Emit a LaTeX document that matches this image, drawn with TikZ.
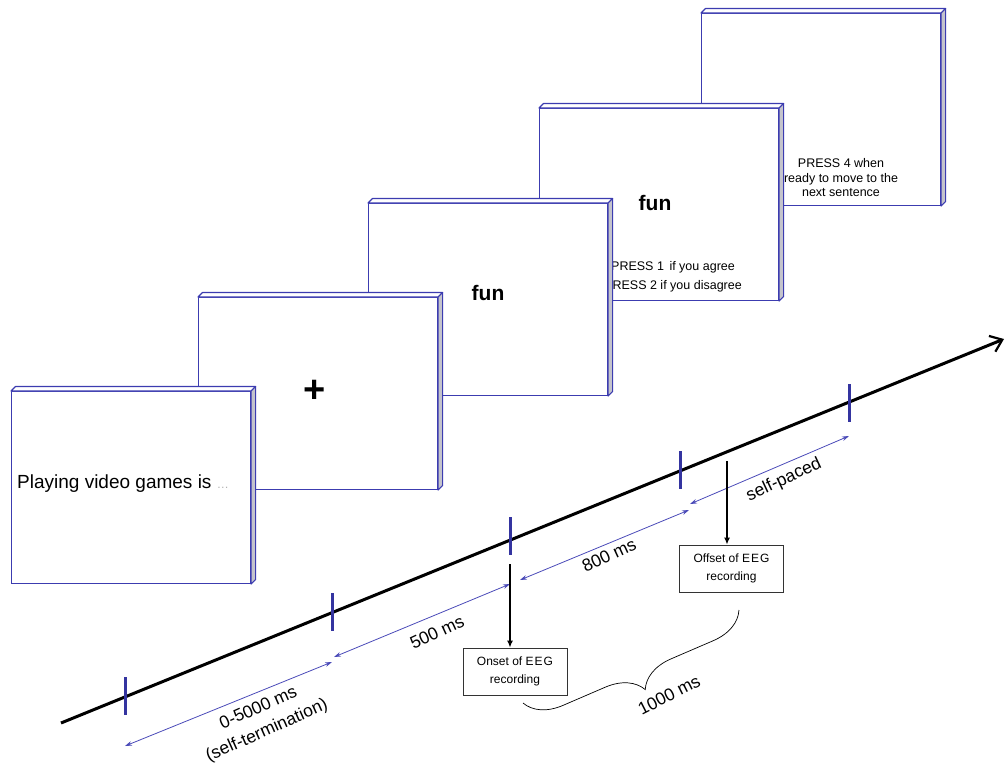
\documentclass[tikz,border=0pt]{standalone}
\usepackage{fontspec}
\setmainfont{Liberation Sans}
\usetikzlibrary{arrows.meta,decorations.pathreplacing,calc}
\definecolor{scrblue}{HTML}{3C3CB0}
\definecolor{tickblue}{HTML}{3434A0}
\definecolor{arrblue}{HTML}{4A4AB8}
\definecolor{stripgrey}{HTML}{C4C4CC}
\tikzset{
  screen/.style={draw=scrblue, line width=1.1pt, fill=white, minimum width=239pt,
    minimum height=192pt, inner sep=0pt, anchor=north west},
  scrtext/.style={font=\fontsize{12.5}{14.5}\selectfont, align=center, inner sep=0pt},
  funtext/.style={font=\fontsize{21}{21}\selectfont\bfseries, inner sep=0pt},
  ticksty/.style={draw=tickblue, line width=3pt},
  dblarrow/.style={draw=arrblue, line width=0.8pt,
    {Stealth[length=7pt,width=4.5pt]}-{Stealth[length=7pt,width=4.5pt]}},
  lbl/.style={font=\fontsize{17.5}{17.5}\selectfont, inner sep=0pt},
  eegbox/.style={draw=black!80, line width=0.8pt, minimum width=104pt, minimum height=47pt,
    align=center, font=\fontsize{12}{18}\selectfont, inner sep=0pt},
  eegarrow/.style={draw=black, line width=1.6pt, -{Latex[length=7pt,width=6pt]}},
}
\newcommand{\drawdepth}[1]{%
  \filldraw[draw=scrblue, fill=white, line width=1.1pt, line join=round]
    (#1.north west) -- ++(4.5,-4.5) -- ($(#1.north east)+(4.5,-4.5)$) -- (#1.north east) -- cycle;
  \filldraw[draw=scrblue, fill=stripgrey, line width=1.1pt, line join=round]
    (#1.north east) -- ++(4.5,-4.5) -- ($(#1.south east)+(4.5,-4.5)$) -- (#1.south east) -- cycle;
}
\newcommand{\eeg}{E\kern1pt E\kern1pt G}
\begin{document}
\begin{tikzpicture}[x=1pt,y=-1pt]
\useasboundingbox (0,0) rectangle (1005,769);

% screen 5
\node[screen] (s5) at (701,13) {};
\drawdepth{s5}
\node[scrtext] (t5) at (841,178) {PRESS 4 when\\ready to move to the\\next sentence};

% screen 4
\node[screen] (s4) at (539,108) {};
\drawdepth{s4}
\node[funtext] (f4) at (655,203) {fun};
\node[scrtext, font=\fontsize{12.5}{19}\selectfont] (t4) at (673,277) {PRESS 1\, if you agree\\PRESS 2 if you disagree};

% screen 3
\node[screen] (s3) at (368,203) {};
\drawdepth{s3}
\node[funtext] (f3) at (488,293) {fun};

% screen 2
\node[screen] (s2) at (198,297) {};
\drawdepth{s2}
\node[font=\fontsize{38}{38}\selectfont\bfseries, inner sep=0pt] (plus) at (315,391) {+};

% screen 1
\node[screen] (s1) at (11,391) {};
\drawdepth{s1}
\node[font=\fontsize{19}{19}\selectfont, anchor=west, inner sep=0pt] (t1) at (17,484)
  {Playing video games is {\color{gray!60}\fontsize{12}{12}\selectfont …}};

% timeline
\coordinate (tlS) at (61,723);
\coordinate (tlE) at (1004,339);
\draw[line width=3pt, -{Straight Barb[length=11pt,width=17pt,line width=2.2pt]}] (tlS) -- (tlE);

% ticks
\foreach \n/\x/\y in {1/125/696, 2/332/612, 3/510/536, 4/680/470, 5/849/403} {
  \coordinate (tk\n) at (\x,\y);
  \draw[ticksty] ($(tk\n)+(0,-19)$) -- ($(tk\n)+(0,19)$);
}

% double arrows
\coordinate (a1s) at (125,746); \coordinate (a1e) at (332,662);
\coordinate (a2s) at (334,657); \coordinate (a2e) at (510,584);
\coordinate (a3s) at (520,580); \coordinate (a3e) at (689,510);
\coordinate (a4s) at (690,504); \coordinate (a4e) at (849,436);
\draw[dblarrow] (a1s) -- (a1e);
\draw[dblarrow] (a2s) -- (a2e);
\draw[dblarrow] (a3s) -- (a3e);
\draw[dblarrow] (a4s) -- (a4e);

% labels
\node[lbl, rotate=24] (l1a) at (258,707) {0-5000 ms};
\node[lbl, rotate=24] (l1b) at (267,731) {(self-termination)};
\node[lbl, rotate=25] (l2) at (437,632) {500 ms};
\node[lbl, rotate=25] (l3) at (609,555) {800 ms};
\node[lbl, rotate=25] (l4) at (784,480) {self-paced};
\node[lbl, rotate=27] (l5) at (669,695) {1000 ms};

% EEG boxes
\node[eegbox] (onset) at (515,671.5) {Onset of \eeg\\recording};
\node[eegbox] (offset) at (731.5,568.5) {Offset of \eeg\\recording};
\coordinate (on1) at (510,564);
\coordinate (off1) at (727,461);
\draw[eegarrow] (on1) -- (on1 |- onset.north);
\draw[eegarrow] (off1) -- (off1 |- offset.north);

% brace
\coordinate (bL) at (523,703);
\coordinate (bR) at (739,610);
\draw[decorate, decoration={brace, mirror, amplitude=36pt, aspect=0.5}, line width=0.7pt] (bL) -- (bR);
\end{tikzpicture}
\end{document}
